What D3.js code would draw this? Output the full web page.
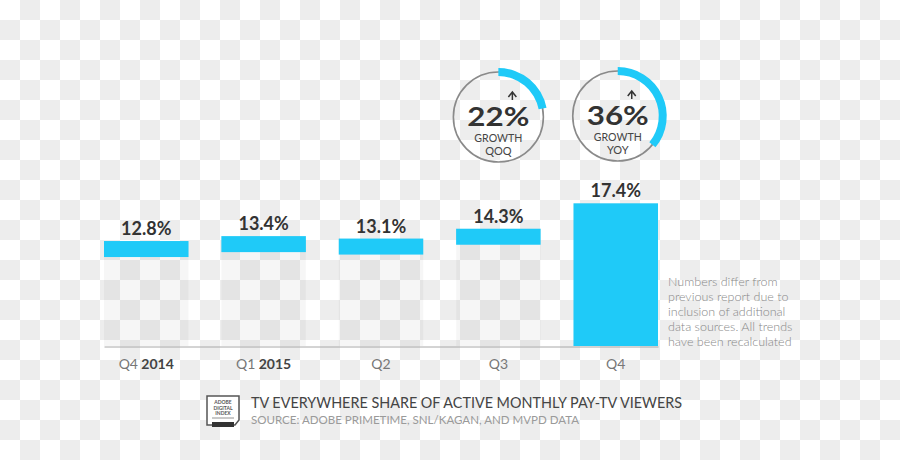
<!DOCTYPE html>
<html>
<head>
<meta charset="utf-8">
<script src="https://cdn.jsdelivr.net/npm/d3@7"></script>
<style>
  html, body { margin: 0; padding: 0; background: #fff; }
  svg { display: block; font-family: Lato, "Open Sans", sans-serif; }
</style>
</head>
<body>
<svg id="chart" width="900" height="460"></svg>
<script>
// ---- data ----
const categories = ["Q4 2014", "Q1 2015", "Q2", "Q3", "Q4"];
const quarterLabels = ["Q4", "Q1", "Q2", "Q3", "Q4"];
const yearLabels = ["2014", "2015", "", "", ""];
const shareValues = [12.8, 13.4, 13.1, 14.3, 17.4];
const valueLabels = ["12.8%", "13.4%", "13.1%", "14.3%", "17.4%"];
const growthValues = [22, 36];
const growthTypes = ["QOQ", "YOY"];
const growthCategories = ["Q3", "Q4"];
const noteLines = ["Numbers differ from", "previous report due to", "inclusion of additional", "data sources. All trends", "have been recalculated"];
const titleText = "TV EVERYWHERE SHARE OF ACTIVE MONTHLY PAY-TV VIEWERS";
const sourceText = "SOURCE: ADOBE PRIMETIME, SNL/KAGAN, AND MVPD DATA";

const CYAN = "#1fcaf8";
const svg = d3.select("#chart");

// checkerboard background
const defs = svg.append("defs");
const pat = defs.append("pattern").attr("id", "checker")
  .attr("width", 40).attr("height", 40).attr("patternUnits", "userSpaceOnUse");
pat.append("rect").attr("width", 40).attr("height", 40).attr("fill", "#ffffff");
pat.append("rect").attr("x", 20).attr("y", 0).attr("width", 20).attr("height", 20).attr("fill", "#ededed");
pat.append("rect").attr("x", 0).attr("y", 20).attr("width", 20).attr("height", 20).attr("fill", "#ededed");
svg.append("rect").attr("width", 900).attr("height", 460).attr("fill", "url(#checker)");

// scales
const x = d3.scaleBand().domain(categories).range([104, 658]).paddingInner(0.28).paddingOuter(0);
const y = d3.scaleLinear().domain([0, 20]).range([346, 182]);
const bandH = 16;

const bars = svg.append("g");
const data = categories.map((c, i) => ({ c, v: shareValues[i], label: valueLabels[i], i }));

// ghost bars
bars.selectAll("rect.ghost").data(data).join("rect")
  .attr("class", "ghost")
  .attr("x", d => x(d.c)).attr("width", x.bandwidth())
  .attr("y", d => y(d.v)).attr("height", d => y(0) - y(d.v))
  .attr("fill", "#000").attr("opacity", 0.035);

// cyan bars (last one full height)
bars.selectAll("rect.val").data(data).join("rect")
  .attr("class", "val")
  .attr("x", d => x(d.c)).attr("width", x.bandwidth())
  .attr("y", d => y(d.v))
  .attr("height", d => d.i === data.length - 1 ? y(0) - y(d.v) : bandH)
  .attr("fill", CYAN);

// baseline axis
const xAxis = d3.axisBottom(x).tickSize(0).tickFormat("");
const axisG = svg.append("g").attr("transform", `translate(0,${y(0) + 0.5})`).call(xAxis);
axisG.select(".domain").attr("stroke", "#a8a8a8").attr("stroke-width", 1);

// value labels
bars.selectAll("text.vl").data(data).join("text")
  .attr("class", "vl")
  .attr("x", d => x(d.c) + x.bandwidth() / 2)
  .attr("y", d => y(d.v) - 6)
  .attr("text-anchor", "middle")
  .attr("font-size", 18).attr("font-weight", 700).attr("fill", "#333")
  .text(d => d.label);

// category labels
const catT = svg.append("g").selectAll("text").data(data).join("text")
  .attr("x", d => x(d.c) + x.bandwidth() / 2)
  .attr("y", 369)
  .attr("text-anchor", "middle")
  .attr("font-size", 14);
catT.append("tspan").attr("fill", "#777").text(d => quarterLabels[d.i]);
catT.filter(d => yearLabels[d.i]).append("tspan").attr("fill", "#444").attr("font-weight", 700)
  .text(d => " " + yearLabels[d.i]);

// growth circles
const circleY = [117, 116];
const arc = d3.arc().innerRadius(41).outerRadius(49).startAngle(0);
const gData = growthValues.map((v, i) => ({ v, t: growthTypes[i], c: growthCategories[i], i }));
const cg = svg.selectAll("g.growth").data(gData).join("g")
  .attr("class", "growth")
  .attr("transform", d => `translate(${x(d.c) + x.bandwidth() / 2 + d.i * 2},${circleY[d.i]})`);
cg.append("circle").attr("r", 45).attr("fill", "none").attr("stroke", "#8a8a8a").attr("stroke-width", 1.6);
cg.append("path").attr("d", d => arc({ endAngle: 2 * Math.PI * d.v / 100 })).attr("fill", CYAN);
cg.append("text").attr("x", 0).attr("y", 9).attr("text-anchor", "middle")
  .attr("font-size", 27).attr("font-weight", 700).attr("fill", "#333")
  .attr("textLength", 62).attr("lengthAdjust", "spacingAndGlyphs")
  .text(d => d.v + "%");
cg.append("text").attr("x", 0).attr("y", 25).attr("text-anchor", "middle")
  .attr("font-size", 11).attr("fill", "#444")
  .attr("textLength", 48).attr("lengthAdjust", "spacingAndGlyphs").text("GROWTH");
cg.append("text").attr("x", 0).attr("y", 38).attr("text-anchor", "middle")
  .attr("font-size", 11).attr("fill", "#444").text(d => d.t);
// small up arrow
cg.append("path").attr("d", "M10,-20 L14,-25 L18,-20 M14,-25 L14,-17")
  .attr("fill", "none").attr("stroke", "#333").attr("stroke-width", 1.5);

// side note
svg.append("g").selectAll("text").data(noteLines).join("text")
  .attr("x", 668).attr("y", (d, i) => 286 + i * 15)
  .attr("font-size", 12.5).attr("font-weight", 300).attr("fill", "#888")
  .text(d => d);

// footer logo
const logo = svg.append("g").attr("transform", "translate(207,396)");
logo.append("path").attr("d", "M0,0 L32,0 L32,24 L28,29 L0,29 Z")
  .attr("fill", "#fff").attr("stroke", "#555").attr("stroke-width", 1.5);
["ADOBE", "DIGITAL", "INDEX"].forEach((t, i) => {
  logo.append("text").attr("x", 16).attr("y", 8 + i * 5.5).attr("text-anchor", "middle")
    .attr("font-size", 5).attr("font-weight", 700).attr("fill", "#555").text(t);
});
logo.append("line").attr("x1", 5).attr("x2", 27).attr("y1", 22).attr("y2", 22).attr("stroke", "#777").attr("stroke-width", 0.8);
logo.append("rect").attr("x", 5).attr("y", 26).attr("width", 22).attr("height", 5).attr("fill", "#333");

// footer title
svg.append("text").attr("x", 251).attr("y", 408)
  .attr("font-size", 15.5).attr("fill", "#444")
  .attr("textLength", 431).attr("lengthAdjust", "spacingAndGlyphs")
  .text(titleText);
svg.append("text").attr("x", 251).attr("y", 424)
  .attr("font-size", 12).attr("fill", "#9a9a9a")
  .attr("textLength", 328).attr("lengthAdjust", "spacingAndGlyphs")
  .text(sourceText);
</script>
</body>
</html>
